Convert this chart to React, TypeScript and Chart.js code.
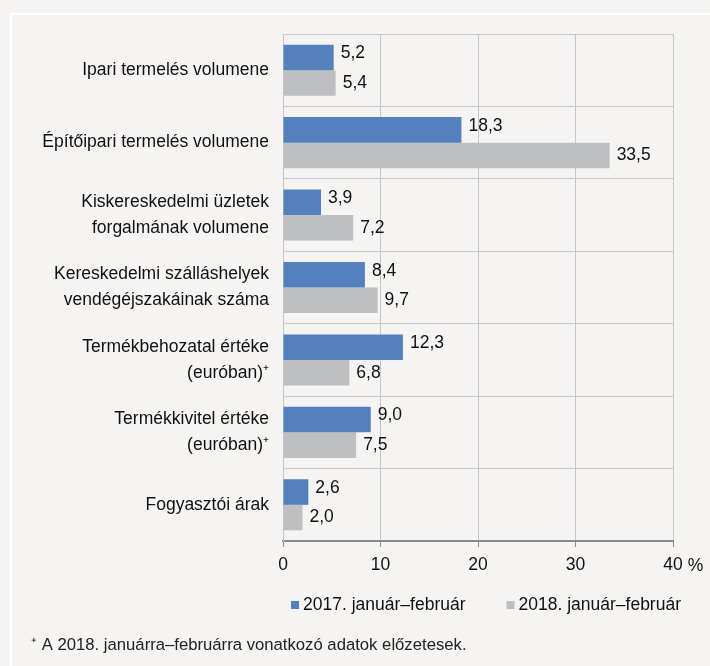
import React, { useEffect, useRef } from "react";
import { Chart, registerables } from "chart.js";

Chart.register(...registerables);

const categories: string[][] = [
  ["Ipari termelés volumene"],
  ["Építőipari termelés volumene"],
  ["Kiskereskedelmi üzletek", "forgalmának volumene"],
  ["Kereskedelmi szálláshelyek", "vendégéjszakáinak száma"],
  ["Termékbehozatal értéke", "(euróban)⁺"],
  ["Termékkivitel értéke", "(euróban)⁺"],
  ["Fogyasztói árak"],
];
const series2017 = [5.2, 18.3, 3.9, 8.4, 12.3, 9.0, 2.6];
const series2018 = [5.4, 33.5, 7.2, 9.7, 6.8, 7.5, 2.0];
const seriesNames = ["2017. január–február", "2018. január–február"];
const xMin = 0;
const xMax = 40;
const xStep = 10;
const unitLabel = "%";
const footnote = "⁺ A 2018. januárra–februárra vonatkozó adatok előzetesek.";

const FONT = '"Liberation Sans", Arial, sans-serif';
const FS = 17.5;
const BG = "#f5f4f2";
const BLUE = "#5580be";
const GREY = "#bdbfc1";

const fmt = (v: number) => v.toFixed(1).replace(".", ",");

const extrasPlugin = {
  id: "extras",
  afterDatasetsDraw(chart: any) {
    const ctx = chart.ctx;
    ctx.save();
    ctx.font = `${FS}px ${FONT}`;
    ctx.fillStyle = "#111";
    ctx.textAlign = "left";
    ctx.textBaseline = "middle";
    chart.data.datasets.forEach((ds: any, i: number) => {
      const meta = chart.getDatasetMeta(i);
      meta.data.forEach((bar: any, j: number) => {
        ctx.fillText(fmt(ds.data[j]), bar.x + 7, bar.y + (i === 0 ? -4 : 0));
      });
    });
    ctx.restore();
  },
  afterDraw(chart: any) {
    const ctx = chart.ctx;
    const xs = chart.scales.x;
    const area = chart.chartArea;
    ctx.save();
    // unit after last tick
    ctx.font = `${FS}px ${FONT}`;
    ctx.fillStyle = "#111";
    ctx.textBaseline = "middle";
    ctx.textAlign = "left";
    const w = ctx.measureText(String(xMax)).width;
    const px = xs.getPixelForValue(xMax);
    ctx.fillText(unitLabel, px + w / 2 + 5, area.bottom + 25);

    // legend
    const boxSize = 8;
    const boxGap = 4;
    const itemGap = 41;
    const items = chart.data.datasets.map((ds: any) => ({
      text: ds.label,
      color: ds.backgroundColor,
      w: boxSize + boxGap + ctx.measureText(ds.label).width,
    }));
    const total = items.reduce((s: number, it: any) => s + it.w, 0) + itemGap * (items.length - 1);
    let x = (area.left + area.right) / 2 + 8 - total / 2;
    const ly = area.bottom + 64;
    items.forEach((it: any) => {
      ctx.fillStyle = it.color;
      ctx.fillRect(x, ly - boxSize / 2, boxSize, boxSize);
      ctx.fillStyle = "#111";
      ctx.fillText(it.text, x + boxSize + boxGap, ly);
      x += it.w + itemGap;
    });

    // footnote
    ctx.font = `16.7px ${FONT}`;
    ctx.fillStyle = "#222";
    ctx.fillText(footnote, 31, chart.height - 21);
    ctx.restore();
  },
};

export default function App() {
  const ref = useRef<HTMLCanvasElement | null>(null);
  useEffect(() => {
    if (!ref.current) return;
    const chart = new Chart(ref.current, {
      type: "bar",
      data: {
        labels: categories,
        datasets: [
          {
            label: seriesNames[0],
            data: series2017,
            backgroundColor: BLUE,
            borderWidth: 0,
            barPercentage: 1,
            categoryPercentage: 0.705,
          },
          {
            label: seriesNames[1],
            data: series2018,
            backgroundColor: GREY,
            borderWidth: 0,
            barPercentage: 1,
            categoryPercentage: 0.705,
          },
        ],
      },
      options: {
        indexAxis: "y",
        animation: false,
        responsive: false,
        maintainAspectRatio: false,
        layout: { padding: { top: 34, right: 37, left: 0, bottom: 95 } },
        scales: {
          x: {
            min: xMin,
            max: xMax,
            ticks: {
              stepSize: xStep,
              color: "#111",
              font: { family: FONT, size: FS },
              padding: 8,
              maxRotation: 0,
              callback: (v: any) => String(v),
            },
            grid: {
              color: "#c4c4c4",
              lineWidth: 1,
              tickColor: "#8a8a8a",
              tickLength: 6,
              drawTicks: true,
            },
            border: { display: true, color: "#8a8a8a", width: 2 },
            afterFit: (s: any) => {
              s.height = 30;
            },
          },
          y: {
            ticks: {
              color: "#111",
              font: { family: FONT, size: FS, lineHeight: 1.5 },
              padding: 14,
            },
            grid: { color: "#c8c8c8", lineWidth: 1, drawTicks: false, offset: true },
            border: { display: true, color: "#c4c4c4", width: 1 },
            afterFit: (s: any) => {
              s.width = 283;
            },
          },
        },
        plugins: {
          legend: { display: false },
          tooltip: { enabled: false },
        },
      },
      plugins: [extrasPlugin],
    });
    return () => chart.destroy();
  }, []);

  return (
    <div style={{ position: "fixed", left: 0, top: 0, width: 710, height: 666, background: BG, overflow: "hidden" }}>
      <div style={{ position: "absolute", left: 10, top: 13, width: 2, height: 653, background: "#fff" }} />
      <div style={{ position: "absolute", left: 10, top: 13, width: 700, height: 2, background: "#fff" }} />
      <canvas ref={ref} width={710} height={666} style={{ position: "absolute", left: 0, top: 0, width: 710, height: 666 }} />
    </div>
  );
}
